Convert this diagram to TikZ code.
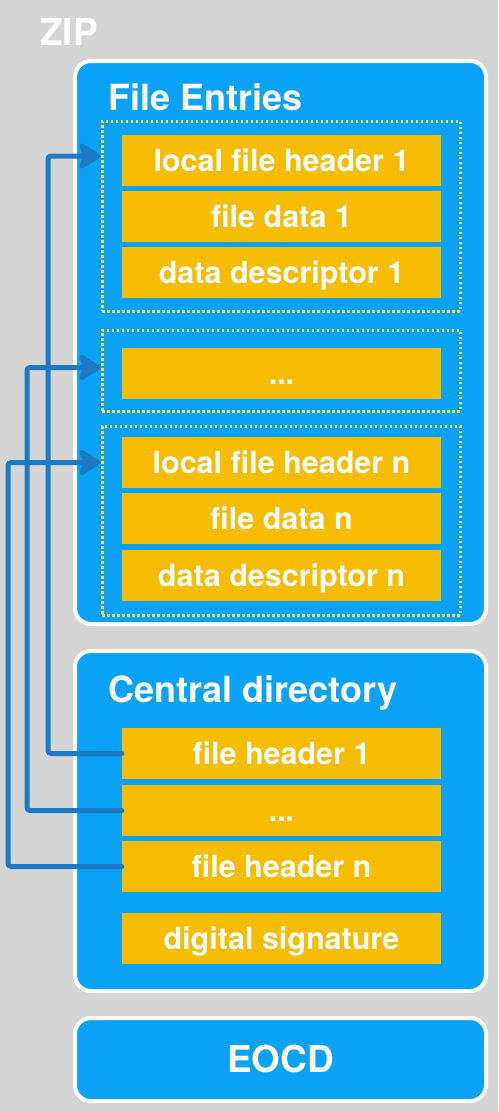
\documentclass[tikz,border=0pt]{standalone}
\usepackage{fontspec}
\setmainfont{TeX Gyre Heros}
\usetikzlibrary{arrows.meta,calc}
\definecolor{bgc}{HTML}{D5D5D5}
\definecolor{boxblue}{HTML}{0AA2F6}
\definecolor{amber}{HTML}{F6BC00}
\definecolor{dotyel}{HTML}{EDE547}
\definecolor{linkblue}{HTML}{1C79C3}
\tikzset{
  outerbox/.style={draw=white, line width=4pt, fill=boxblue, rounded corners=16pt,
    minimum width=411pt, inner sep=0pt},
  groupbox/.style={draw=dotyel, line width=3pt, dash pattern=on 2.5pt off 2.5pt,
    minimum width=358pt, inner sep=0pt},
  itembox/.style={fill=amber, minimum width=319pt, minimum height=51pt, inner sep=0pt,
    text=white, font=\bfseries\fontsize{30.5}{36}\selectfont, text height=22pt, text depth=0pt},
  heading/.style={text=white, font=\bfseries\fontsize{36}{42}\selectfont, inner sep=0pt, anchor=base west},
  link/.style={draw=linkblue, line width=5pt, line cap=round, line join=round, rounded corners=3pt},
  linkarrow/.style={link, -{Stealth[length=26pt, width=32pt, inset=7pt, round]}}
}
\begin{document}
\begin{tikzpicture}[x=1pt, y=-1pt]
\fill[bgc] (0,0) rectangle (498,1111);
\useasboundingbox (0,0) rectangle (498,1111);

\node[heading, font=\bfseries\fontsize{37}{42}\selectfont] (zip) at (40,45) {ZIP};

% outer boxes
\node[outerbox, minimum height=563pt] (fe) at (280.5,342.5) {};
\node[outerbox, minimum height=340pt] (cd) at (280.5,821) {};
\node[outerbox, minimum height=83pt, text=white, font=\bfseries\fontsize{37}{42}\selectfont,
      text height=26.5pt, text depth=0pt] (eocd) at (280.5,1059.5) {EOCD};

\node[heading] (fetitle) at (108,110) {File Entries};
\node[heading] (cdtitle) at (108,702) {Central directory};

% dotted groups
\node[groupbox, minimum height=190pt] (g1) at (281,216) {};
\node[groupbox, minimum height=81pt] (g2) at (281,370.5) {};
\node[groupbox, minimum height=189pt] (g3) at (281,520.5) {};

% entries
\node[itembox] (lfh1) at (281.5,160) {local file header 1};
\node[itembox] (fd1) at (281.5,216) {file data 1};
\node[itembox] (dd1) at (281.5,272.5) {data descriptor 1};
\node[itembox] (edots) at (281.5,373.5) {...};
\node[itembox] (lfhn) at (281.5,462.5) {local file header n};
\node[itembox] (fdn) at (281.5,518.5) {file data n};
\node[itembox] (ddn) at (281.5,575) {data descriptor n};

% central directory
\node[itembox] (fh1) at (281.5,753.5) {file header 1};
\node[itembox] (cdots) at (281.5,810.5) {...};
\node[itembox] (fhn) at (281.5,866.5) {file header n};
\node[itembox] (sig) at (281.5,938.5) {digital signature};

% links
\coordinate (t1) at ($(g1.west |- lfh1.west)+(0,-4)$);
\coordinate (t2) at ($(g2.west)+(0,-3)$);
\coordinate (t3) at (g3.west |- lfhn.west);
\coordinate (b1) at (48,753.5);
\coordinate (b2) at (27,810.5);
\coordinate (b3) at (8,866.5);

\draw[linkarrow] (fh1.west) -- (b1) -- (b1 |- t1) -- (t1);
\draw[linkarrow] (cdots.west) -- (b2) -- (b2 |- t2) -- (t2);
\draw[linkarrow] (fhn.west) -- (b3) -- (b3 |- t3) -- (t3);
\end{tikzpicture}
\end{document}
